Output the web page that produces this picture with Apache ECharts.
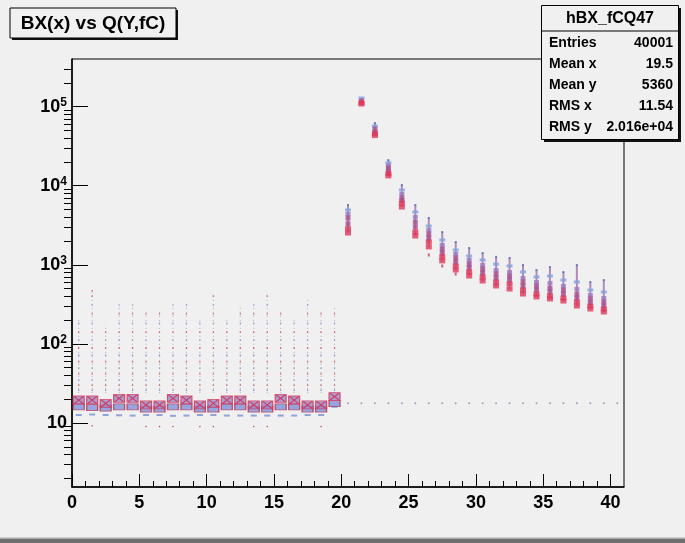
<!DOCTYPE html>
<html>
<head>
<meta charset="utf-8">
<title>BX(x) vs Q(Y,fC)</title>
<script src="https://cdn.jsdelivr.net/npm/echarts@6/dist/echarts.min.js"></script>
<style>
  html, body { margin: 0; padding: 0; background: #f0f0f0; }
  #main { width: 685px; height: 543px; }
</style>
</head>
<body>
<div id="main"></div>
<script>
// axis ticks (ROOT style: major + minor, pointing inwards)
const xMajorTicks = [0, 5, 10, 15, 20, 25, 30, 35, 40];
const xMinorTicks = [1, 2, 3, 4, 6, 7, 8, 9, 11, 12, 13, 14, 16, 17, 18, 19, 21, 22, 23, 24,
  26, 27, 28, 29, 31, 32, 33, 34, 36, 37, 38, 39];
const yMajorTicks = [10, 100, 1000, 10000, 100000];
const yMinorTicks = [2, 3, 4, 5, 6, 7, 8, 9, 20, 30, 40, 50, 60, 70, 80, 90,
  200, 300, 400, 500, 600, 700, 800, 900, 2000, 3000, 4000, 5000, 6000, 7000, 8000, 9000,
  20000, 30000, 40000, 50000, 60000, 70000, 80000, 90000, 200000, 300000];

// bins 0..19 : low charge region
const lowBins = [0.5, 1.5, 2.5, 3.5, 4.5, 5.5, 6.5, 7.5, 8.5, 9.5,
  10.5, 11.5, 12.5, 13.5, 14.5, 15.5, 16.5, 17.5, 18.5, 19.5];
const lowUpper = [19.5, 19.5, 17.7, 20.5, 20.5, 16.9, 16.9, 20.5, 19.5, 16.9,
  17.7, 19.5, 19.5, 16.9, 16.9, 20.5, 19.5, 16.9, 16.9, 21.5];
const lowLower = [16.0, 15.6, 15.4, 16.0, 16.0, 15.0, 15.0, 16.0, 16.0, 15.0,
  15.0, 16.0, 16.0, 15.0, 15.0, 16.0, 16.0, 15.0, 15.0, 17.5];
const lowDash = [12.6, 12.8, 12.6, 12.5, 12.4, 12.6, 12.6, 12.3, 12.4, 12.6,
  12.6, 12.4, 12.4, 12.4, 12.4, 12.4, 12.4, 12.6, 12.6, 16.0];
const lowStray = [null, 9.2, null, null, null, 9.0, 9.0, 9.0, null, 9.0,
  9.0, null, null, 9.0, 9.0, null, null, null, 9.0, null];
const lowTailTop = [200, 470, 175, 310, 310, 270, 255, 310, 330, 220,
  440, 220, 290, 310, 410, 270, 220, 360, 270, 285];
const tailBlue = [26, 35, 49.5, 72, 112, 184, 310];
const tailRed = [30, 41.6, 59, 89, 141, 239, 403, 470];

// bins 20..39 : signal region
const hiBins = [20.5, 21.5, 22.5, 23.5, 24.5, 25.5, 26.5, 27.5, 28.5, 29.5,
  30.5, 31.5, 32.5, 33.5, 34.5, 35.5, 36.5, 37.5, 38.5, 39.5];
const hiTip = [5700, null, 62000, 21100, 10200, 5700, 3910, 2600, 1940, 1630,
  1410, 1260, 1220, 994, 860, 938, 811, 994, 606, 642];
const hiBlue1 = [4930, 128500, 57000, 19500, 8830, 4650, 3090, 2060, 1540, 1290,
  1150, 1020, 966, 811, 701, 722, 642, 606, 480, 453];
const hiBlue2 = [4390, null, null, 18000, 7860, 4020, 2750, 1780, 1370, 1150,
  994, 860, 811, 681, 606, 589, 540, 494, 415, 380];
const hiMid1 = [3900, 117800, 52000, 16700, 7000, 3470, 2450, 1580, 1220, 1020,
  885, 765, 722, 606, 540, 509, 480, 427, 370, 339];
const hiMid2 = [3300, null, 48000, 15300, 6500, 3010, 2180, 1410, 1080, 912,
  788, 681, 642, 540, 480, 453, 427, 380, 329, 301];
const hiRed1 = [2850, 112000, 45500, 14200, 6000, 2600, 1940, 1260, 966, 811,
  701, 606, 572, 480, 427, 403, 380, 339, 301, 276];
const hiRed2 = [2520, 107900, 43000, 13300, 5380, 2310, 1680, 1120, 860, 722,
  624, 540, 494, 427, 392, 370, 348, 301, 276, 253];
const hiTail = [null, null, null, null, null, null, 1330, 966, 765, null,
  null, null, null, null, null, null, null, null, null, null];

// faint row of entries at ~18 fC for bins 20..40
const flatBins = [20.5, 21.5, 22.5, 23.5, 24.5, 25.5, 26.5, 27.5, 28.5, 29.5, 30.5,
  31.5, 32.5, 33.5, 34.5, 35.5, 36.5, 37.5, 38.5, 39.5, 40.5];
const flatLevel = [17.7, 17.7, 17.7, 17.7, 17.7, 17.7, 17.7, 17.7, 17.7, 17.7, 17.7,
  17.7, 17.7, 17.7, 17.7, 17.7, 17.7, 17.7, 17.7, 17.7, 17.7];

const titleText = 'BX(x) vs Q(Y,fC)';
const statsName = 'hBX_fCQ47';
const statsLabels = ['Entries', 'Mean x', 'Mean y', 'RMS x', 'RMS y'];
const statsValues = ['40001', '19.5', '5360', '11.54', '2.016e+04'];

const BG = '#f0f0f0';
const FONT = '"Liberation Sans", Arial, Helvetica, sans-serif';

function pairs(xs, ys) {
  const out = [];
  xs.forEach(function (x, i) { if (ys[i] != null) out.push([x, ys[i]]); });
  return out;
}
function tailPoints(levels) {
  const out = [];
  lowBins.forEach(function (x, i) {
    levels.forEach(function (v) { if (v <= lowTailTop[i]) out.push([x, v]); });
  });
  return out;
}
// vertical segment [x, from, to] drawn through the axes
function segment(style) {
  return function (params, api) {
    const p0 = api.coord([api.value(0), api.value(1)]);
    const p1 = api.coord([api.value(0), api.value(2)]);
    return { type: 'line', shape: { x1: p0[0], y1: p0[1], x2: p1[0], y2: p1[1] }, style: style };
  };
}

const chartDom = document.getElementById('main');
const myChart = echarts.init(chartDom, null, { renderer: 'canvas' });

const labelStyle = { fontFamily: FONT, fontWeight: 'bold', fontSize: 18, color: '#000' };

// stats box graphic
const statsGraphic = [
  { type: 'rect', z: 100, shape: { x: 544, y: 8, width: 137, height: 134 }, style: { fill: '#111' } },
  { type: 'rect', z: 101, shape: { x: 541.5, y: 5.5, width: 137, height: 134 }, style: { fill: BG, stroke: '#000', lineWidth: 1 } },
  { type: 'line', z: 102, shape: { x1: 541.5, y1: 31, x2: 678.5, y2: 31 }, style: { stroke: '#000', lineWidth: 1 } },
  { type: 'text', z: 103, x: 610, y: 18.5, style: { text: statsName, font: 'bold 16px ' + FONT, fill: '#000', align: 'center', verticalAlign: 'middle', textAlign: 'center', textVerticalAlign: 'middle' } }
];
statsLabels.forEach(function (lab, i) {
  const yy = 43 + i * 21;
  statsGraphic.push({ type: 'text', z: 103, x: 549, y: yy, style: { text: lab, font: 'bold 14px ' + FONT, fill: '#000', align: 'left', verticalAlign: 'middle', textAlign: 'left', textVerticalAlign: 'middle' } });
  statsGraphic.push({ type: 'text', z: 103, x: 673, y: yy, style: { text: statsValues[i], font: 'bold 14px ' + FONT, fill: '#000', align: 'right', verticalAlign: 'middle', textAlign: 'right', textVerticalAlign: 'middle' } });
});

const option = {
  backgroundColor: BG,
  animation: false,
  grid: { left: 72, right: 61, top: 59, bottom: 56, show: true, borderColor: '#000', borderWidth: 1, backgroundColor: BG },
  xAxis: [
    {
      type: 'value', min: 0, max: 41, position: 'bottom',
      axisLine: { show: true, lineStyle: { color: '#000', width: 1.5 } },
      axisTick: { show: true, inside: true, length: 13, customValues: xMajorTicks, lineStyle: { color: '#000', width: 1 } },
      axisLabel: Object.assign({ customValues: xMajorTicks, margin: 7 }, labelStyle),
      splitLine: { show: false }
    },
    {
      type: 'value', min: 0, max: 41, position: 'bottom',
      axisLine: { show: false },
      axisTick: { show: true, inside: true, length: 6, customValues: xMinorTicks, lineStyle: { color: '#000', width: 1 } },
      axisLabel: { show: false },
      splitLine: { show: false }
    }
  ],
  yAxis: [
    {
      type: 'log', logBase: 10, min: 1.55, max: 400000,
      axisLine: { show: true, lineStyle: { color: '#000', width: 1.5 } },
      axisTick: { show: true, inside: true, length: 16, customValues: yMajorTicks, lineStyle: { color: '#000', width: 1 } },
      axisLabel: {
        customValues: yMajorTicks, margin: 5,
        formatter: function (v) {
          const e = Math.round(Math.log10(v));
          if (e === 1) return '{b|10}';
          return '{b|10}{s|' + e + '}';
        },
        rich: {
          b: { fontFamily: FONT, fontWeight: 'bold', fontSize: 18, color: '#000' },
          s: { fontFamily: FONT, fontWeight: 'bold', fontSize: 12, color: '#000', verticalAlign: 'top', padding: [0, 0, 8, 0] }
        }
      },
      splitLine: { show: false }
    },
    {
      type: 'log', logBase: 10, min: 1.55, max: 400000,
      axisLine: { show: false },
      axisTick: { show: true, inside: true, length: 8, customValues: yMinorTicks, lineStyle: { color: '#000', width: 1 } },
      axisLabel: { show: false },
      splitLine: { show: false }
    }
  ],
  graphic: [
    { type: 'rect', z: 100, shape: { x: 12, y: 10, width: 166, height: 30 }, style: { fill: '#111' } },
    { type: 'rect', z: 101, shape: { x: 10, y: 8, width: 166, height: 30 }, style: { fill: BG, stroke: '#000', lineWidth: 1 } },
    { type: 'text', z: 102, x: 93, y: 23.5, style: { text: titleText, font: 'bold 19px ' + FONT, fill: '#000', align: 'center', verticalAlign: 'middle', textAlign: 'center', textVerticalAlign: 'middle' } },
    { type: 'rect', z: 100, shape: { x: 0, y: 537.5, width: 685, height: 1.5 }, style: { fill: '#a9a9a9' } },
    { type: 'rect', z: 100, shape: { x: 0, y: 539, width: 685, height: 4 }, style: { fill: '#6e6e6e' } }
  ].concat(statsGraphic),
  series: [
    {
      // dotted tails above the pedestal
      type: 'custom', silent: true,
      renderItem: segment({ stroke: '#8a80a6', lineWidth: 1, lineDash: [1, 3], opacity: 0.6 }),
      encode: { x: 0, y: [1, 2] },
      data: lowBins.map(function (x, i) { return [x, 24, lowTailTop[i]]; })
    },
    { type: 'scatter', symbol: 'circle', symbolSize: 1.6, itemStyle: { color: '#6f86d0', opacity: 0.8 }, data: tailPoints(tailBlue) },
    { type: 'scatter', symbol: 'circle', symbolSize: 1.6, itemStyle: { color: '#d8304c', opacity: 0.8 }, data: tailPoints(tailRed) },
    { type: 'scatter', symbol: 'rect', symbolSize: [6, 2], itemStyle: { color: '#7b8fd6' }, data: pairs(lowBins, lowDash) },
    { type: 'scatter', symbol: 'circle', symbolSize: 1.6, itemStyle: { color: '#b03050' }, data: pairs(lowBins, lowStray) },
    { type: 'scatter', symbol: 'rect', symbolSize: [11, 6], itemStyle: { color: '#7f92d8', borderColor: '#b8304e', borderWidth: 1 }, data: pairs(lowBins, lowLower) },
    { type: 'scatter', symbol: 'rect', symbolSize: [11, 8], itemStyle: { color: '#9c88c8', borderColor: '#d83050', borderWidth: 1 }, data: pairs(lowBins, lowUpper) },
    { type: 'scatter', symbol: 'path://M0,0L10,10M10,0L0,10', symbolSize: [9, 7], itemStyle: { color: 'transparent', borderColor: '#d42848', borderWidth: 1.2 }, data: pairs(lowBins, lowUpper) },
    // signal clusters: faint spine, then dashes
    {
      type: 'custom', silent: true,
      renderItem: segment({ stroke: '#9c6aa6', lineWidth: 2, opacity: 0.75 }),
      encode: { x: 0, y: [1, 2] },
      data: hiBins.map(function (x, i) { return [x, hiRed2[i], hiTip[i] != null ? hiTip[i] : hiBlue1[i]]; })
    },
    { type: 'scatter', symbol: 'rect', symbolSize: [2, 3], itemStyle: { color: '#c04060' }, data: pairs(hiBins, hiTail) },
    { type: 'scatter', symbol: 'rect', symbolSize: [2, 2], itemStyle: { color: '#5f6cb8' }, data: pairs(hiBins, hiTip) },
    { type: 'scatter', symbol: 'rect', symbolSize: [6, 3], itemStyle: { color: '#86a0de' }, data: pairs(hiBins, hiBlue1) },
    { type: 'scatter', symbol: 'rect', symbolSize: [5, 4], itemStyle: { color: '#9a78c0' }, data: pairs(hiBins, hiBlue2) },
    { type: 'scatter', symbol: 'rect', symbolSize: [5, 5], itemStyle: { color: '#a8508e' }, data: pairs(hiBins, hiMid1).concat(pairs(hiBins, hiMid2)) },
    { type: 'scatter', symbol: 'rect', symbolSize: [6, 5], itemStyle: { color: '#e0385a' }, data: pairs(hiBins, hiRed1).concat(pairs(hiBins, hiRed2)) },
    { type: 'scatter', symbol: 'circle', symbolSize: 2, itemStyle: { color: '#8c8cb4' }, data: pairs(flatBins, flatLevel) }
  ]
};

option && myChart.setOption(option);
</script>
</body>
</html>
